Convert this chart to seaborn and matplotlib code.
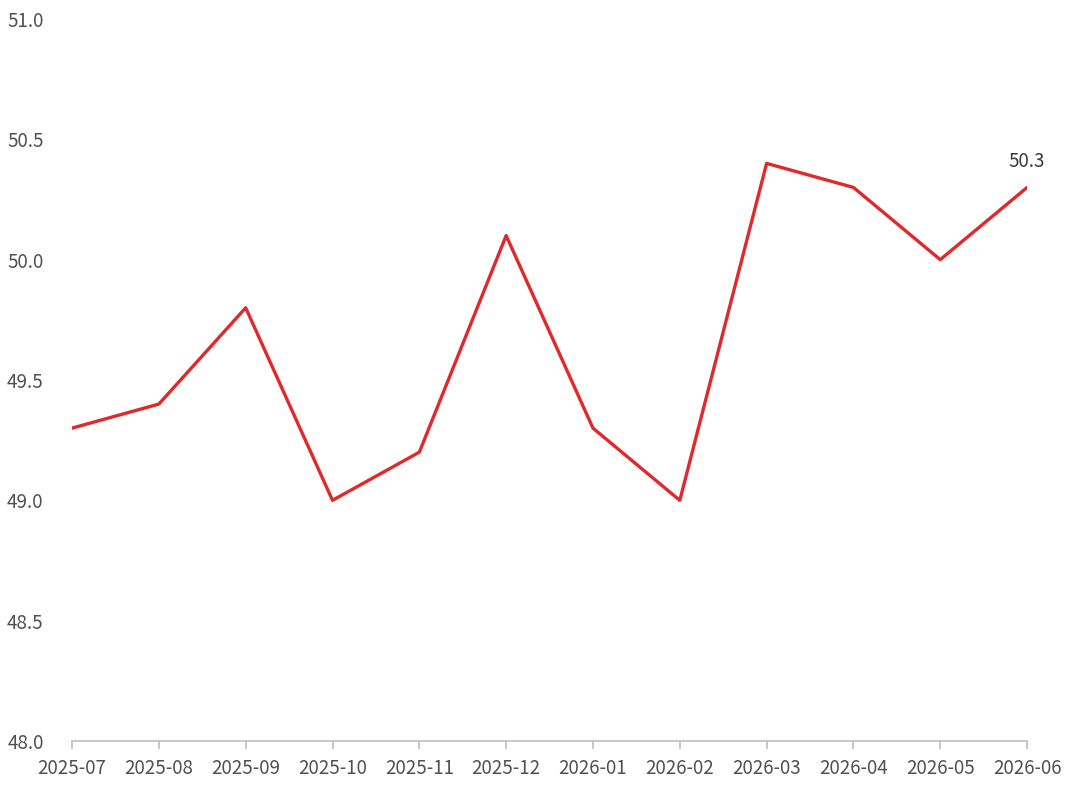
import matplotlib
matplotlib.use("Agg")
import matplotlib.pyplot as plt
import pandas as pd
import seaborn as sns

months = ["2025-07", "2025-08", "2025-09", "2025-10", "2025-11", "2025-12",
          "2026-01", "2026-02", "2026-03", "2026-04", "2026-05", "2026-06"]
values = [49.3, 49.4, 49.8, 49.0, 49.2, 50.1, 49.3, 49.0, 50.4, 50.3, 50.0, 50.3]
yticks = [48.0, 48.5, 49.0, 49.5, 50.0, 50.5, 51.0]

sns.set_style("white")
plt.rcParams['font.family'] = ['Noto Sans CJK SC', 'DejaVu Sans']

df = pd.DataFrame({"month": months, "value": values})
df["pos"] = range(len(df))

fig = plt.figure(figsize=(10.8, 7.9), dpi=100)
ax = fig.add_axes([0.0667, 0.062, 0.8843, 0.914])
sns.lineplot(data=df, x="pos", y="value", color="#E0292B", linewidth=2.4, ax=ax)

ax.set_xlim(0, len(months) - 1)
ax.set_ylim(48, 51)
ax.set_xticks(df["pos"])
ax.set_xticklabels(months)
ax.set_yticks(yticks)
ax.set_yticklabels([f"{v:.1f}" for v in yticks])
ax.set_xlabel("")
ax.set_ylabel("")

for s in ["left", "right", "top"]:
    ax.spines[s].set_visible(False)
ax.spines["bottom"].set_color("#BFBFBF")
ax.spines["bottom"].set_linewidth(1.2)
ax.tick_params(axis="x", which="both", bottom=True, length=6, width=1.2,
               color="#BFBFBF", labelsize=13.5, labelcolor="#505050", pad=6)
ax.tick_params(axis="y", left=False, labelsize=13.5, labelcolor="#505050", pad=17)

ax.annotate(f"{values[-1]:.1f}", xy=(len(values) - 1, values[-1]),
            xytext=(0, 11), textcoords="offset points", ha="center", va="bottom",
            fontsize=13.5, color="#3A3A3A")

fig.savefig("out.png", dpi=100)
